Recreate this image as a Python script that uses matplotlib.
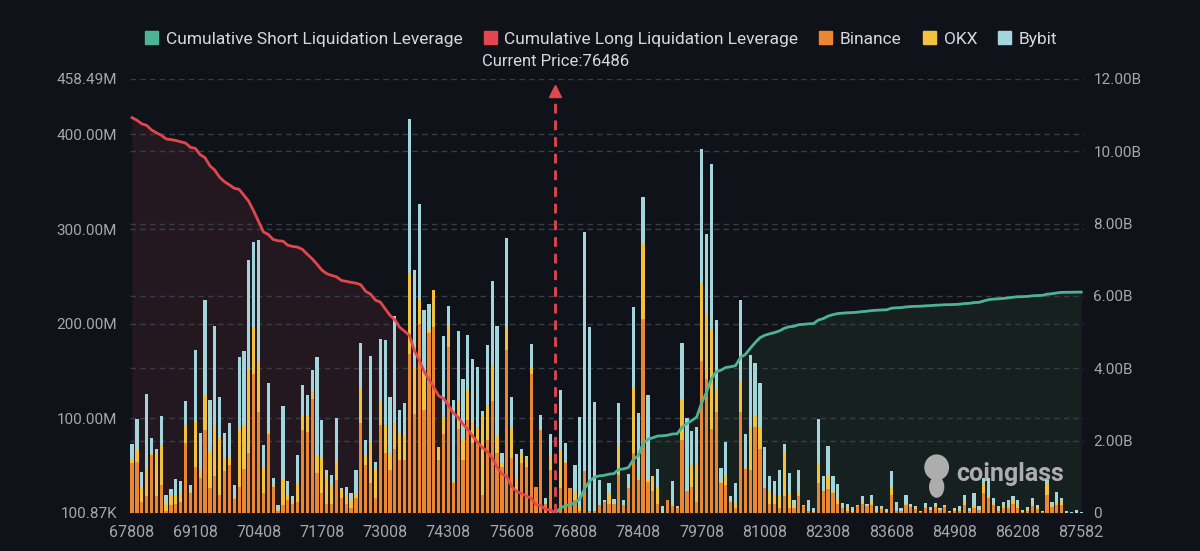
import matplotlib
matplotlib.use("Agg")
import matplotlib.pyplot as plt
import matplotlib.transforms as mtransforms
from matplotlib.patches import Patch, Ellipse
import numpy as np

plt.rcParams['font.family'] = ['Roboto', 'DejaVu Sans']

# liquidation leverage per price bin, in millions
binance = [53, 54, 12, 18, 61, 18, 30, 2, 9, 10,
           12, 74, 21, 49, 37, 88, 26, 39, 19, 44,
           51, 15, 28, 47, 63, 147, 107, 21, 84, 28,
           2, 9, 14, 10, 12, 88, 86, 121, 42, 21,
           10, 10, 35, 16, 10, 5, 16, 95, 51, 32,
           16, 93, 63, 46, 68, 56, 56, 168, 105, 200,
           109, 190, 196, 56, 84, 175, 32, 89, 56, 98,
           74, 75, 19, 77, 118, 63, 49, 172, 58, 23,
           53, 49, 147, 28, 88, 10, 46, 2, 26, 53,
           26, 14, 2, 44, 2, 2, 9, 12, 10, 10,
           40, 9, 26, 63, 35, 205, 33, 23, 10, 0,
           14, 7, 5, 77, 23, 28, 12, 161, 142, 89,
           107, 32, 30, 12, 5, 107, 47, 46, 91, 68,
           26, 10, 10, 5, 18, 5, 5, 18, 7, 2,
           1, 32, 23, 25, 21, 10, 5, 2, 1, 7,
           10, 8, 9, 1, 4, 1, 19, 2, 2, 9,
           6, 4, 1, 5, 3, 6, 3, 6, 1, 2,
           2, 9, 2, 5, 3, 21, 16, 9, 2, 5,
           5, 10, 5, 1, 2, 7, 4, 1, 19, 6,
           9, 9, 0, 0, 0, 0]
okx = [4, 13, 14, 29, 2, 45, 42, 8, 10, 8,
       9, 19, 2, 47, 10, 37, 39, 54, 60, 14,
       7, 1, 60, 46, 88, 49, 54, 28, 2, 2,
       2, 26, 4, 2, 20, 16, 18, 7, 19, 37,
       29, 20, 19, 8, 9, 9, 4, 37, 10, 43,
       30, 25, 30, 17, 27, 28, 25, 86, 49, 25,
       38, 3, 40, 14, 16, 23, 2, 29, 21, 32,
       22, 16, 85, 37, 38, 19, 4, 24, 33, 14,
       10, 9, 7, 0, 1, 0, 14, 0, 42, 1,
       0, 9, 3, 0, 0, 0, 0, 0, 11, 0,
       32, 0, 2, 69, 2, 80, 2, 16, 16, 0,
       0, 3, 1, 44, 0, 23, 41, 82, 69, 105,
       23, 1, 9, 2, 5, 33, 2, 45, 11, 23,
       2, 13, 9, 13, 47, 16, 2, 5, 0, 0,
       0, 21, 0, 15, 2, 4, 1, 3, 0, 0,
       2, 0, 3, 1, 1, 0, 7, 0, 0, 1,
       1, 1, 0, 1, 1, 1, 0, 1, 0, 1,
       1, 3, 0, 4, 1, 11, 2, 1, 1, 4,
       4, 4, 4, 0, 1, 3, 1, 0, 13, 3,
       3, 3, 0, 0, 0, 0]
bybit = [16, 32, 17, 79, 16, 5, 30, 9, 6, 18,
         13, 25, 7, 76, 38, 100, 54, 105, 44, 27,
         37, 14, 77, 78, 116, 90, 127, 23, 51, 7,
         5, 78, 16, 6, 29, 31, 21, 23, 104, 40,
         7, 10, 46, 2, 9, 7, 26, 48, 16, 91,
         8, 66, 90, 60, 113, 25, 35, 162, 103, 101,
         67, 28, 0, 0, 87, 21, 85, 74, 65, 58,
         67, 63, 4, 64, 89, 116, 10, 94, 32, 25,
         5, 2, 25, 0, 15, 6, 23, 1, 62, 20,
         0, 28, 96, 253, 194, 115, 26, 2, 11, 5,
         44, 5, 13, 86, 69, 49, 90, 0, 21, 7,
         0, 24, 2, 59, 77, 36, 38, 142, 84, 175,
         74, 15, 36, 4, 22, 85, 34, 76, 56, 46,
         42, 16, 15, 27, 8, 21, 7, 22, 2, 12,
         4, 46, 16, 31, 16, 17, 5, 5, 5, 2,
         6, 2, 7, 6, 3, 3, 18, 10, 3, 9,
         3, 2, 1, 5, 2, 4, 2, 2, 1, 2,
         4, 7, 3, 12, 3, 5, 19, 6, 4, 3,
         5, 4, 5, 2, 3, 6, 4, 1, 3, 3,
         10, 4, 2, 1, 3, 1]

price_labels = ['67808', '69108', '70408', '71708', '73008', '74308', '75608', '76808',
                '78408', '79708', '81008', '82308', '83608', '84908', '86208', '87582']
label_step = 13
current_price = 76486
current_idx = 87

left_ticks = [0.10087, 100, 200, 300, 400, 458.49]
left_labels = ['100.87K', '100.00M', '200.00M', '300.00M', '400.00M', '458.49M']
right_ticks = [0, 2, 4, 6, 8, 10, 12]
right_labels = ['0', '2.00B', '4.00B', '6.00B', '8.00B', '10.00B', '12.00B']

binance = np.array(binance, dtype=float)
okx = np.array(okx, dtype=float)
bybit = np.array(bybit, dtype=float)
total = binance + okx + bybit
n = len(total)
x = np.arange(n)

# cumulative leverage (billions): longs summed outward to the left, shorts to the right
long_x = x[:current_idx + 1]
long_cum = np.append(np.cumsum(total[:current_idx][::-1])[::-1], 0) / 1000
short_x = x[current_idx:]
short_cum = np.append(0, np.cumsum(total[current_idx + 1:])) / 1000

BG = '#10121a'
TXT = '#a4a7ad'
GRID = '#3a3d46'
C_RED = '#e2474d'
C_GREEN = '#4cb396'
C_BIN = '#eb8733'
C_OKX = '#f2c13e'
C_BYB = '#a3d6dc'
C_MARK = '#adadad'

fig = plt.figure(figsize=(12, 5.51), dpi=100, facecolor=BG)
ax = fig.add_axes([0.108, 0.069, 0.795, 0.7877])
ax.set_facecolor(BG)
ax2 = ax.twinx()
ax2.patch.set_visible(False)

ax.set_xlim(-0.5, n - 0.5)
ax.set_ylim(left_ticks[0], left_ticks[-1])
ax2.set_ylim(0, 12)

# fills live on the bottom axes (behind the bars) but use the right scale
ax.fill_between(long_x, 0, long_cum, color='#241820', lw=0, zorder=0.5, transform=ax2.transData)
ax.fill_between(short_x, 0, short_cum, color='#16211f', lw=0, zorder=0.5, transform=ax2.transData)

# dashed grid from both axes
for v in left_ticks[1:]:
    ax.axhline(v, color=GRID, lw=1, ls=(0, (4, 3)), zorder=0.8)
blend = mtransforms.blended_transform_factory(ax.transAxes, ax2.transData)
for v in right_ticks[1:-1]:
    ax.plot([0, 1], [v, v], color=GRID, lw=1, ls=(0, (4, 3)), zorder=0.8, transform=blend)

# watermark
ax.text(0.979, 0.09, 'coinglass', transform=ax.transAxes, ha='right', va='center',
        fontsize=18, fontweight='bold', color=C_MARK, zorder=0.9)
ax.add_patch(Ellipse((0.846, 0.105), 0.026, 0.06, transform=ax.transAxes,
                     color=C_MARK, lw=0, zorder=0.9))
ax.add_patch(Ellipse((0.846, 0.06), 0.016, 0.05, transform=ax.transAxes,
                     color=C_MARK, lw=0, zorder=0.9))

w = 0.66
ax.bar(x, binance, width=w, color=C_BIN, zorder=2, lw=0)
ax.bar(x, okx, width=w, bottom=binance, color=C_OKX, zorder=2, lw=0)
ax.bar(x, bybit, width=w, bottom=binance + okx, color=C_BYB, zorder=2, lw=0)

ax2.plot(long_x, long_cum, color=C_RED, lw=2)
ax2.plot(short_x, short_cum, color=C_GREEN, lw=2)

# current price marker
ax2.plot([current_idx, current_idx], [0, 11.55], color=C_RED, lw=2, ls=(0, (3.5, 2.5)))
ax2.plot([current_idx], [11.68], marker='^', ms=9, color=C_RED, mec=C_RED)
ax2.text(current_idx, 1.04, 'Current Price:%d' % current_price, ha='center', va='center',
         transform=mtransforms.blended_transform_factory(ax2.transData, ax2.transAxes),
         fontsize=12, color='#d6d8dc')

ax.set_xticks(x[::label_step])
ax.set_xticklabels(price_labels)
ax.set_yticks(left_ticks)
ax.set_yticklabels(left_labels)
ax2.set_yticks(right_ticks)
ax2.set_yticklabels(right_labels)
ax.tick_params(axis='x', length=0, pad=9, labelsize=11.5, labelcolor=TXT)
ax.tick_params(axis='y', length=0, pad=9, labelsize=11, labelcolor=TXT)
ax2.tick_params(axis='y', length=0, pad=7, labelsize=11, labelcolor=TXT)
for a in (ax, ax2):
    for s in a.spines.values():
        s.set_visible(False)

handles = [Patch(color=C_GREEN), Patch(color=C_RED), Patch(color=C_BIN),
           Patch(color=C_OKX), Patch(color=C_BYB)]
names = ['Cumulative Short Liquidation Leverage', 'Cumulative Long Liquidation Leverage',
         'Binance', 'OKX', 'Bybit']
leg = fig.legend(handles, names, loc='center', bbox_to_anchor=(0.501, 0.929), ncol=5,
                 frameon=False, fontsize=12.5, handlelength=0.75, handleheight=0.75,
                 handletextpad=0.45, columnspacing=1.2)
for t in leg.get_texts():
    t.set_color('#d6d8dc')

fig.savefig('out.png', dpi=100, facecolor=BG)
